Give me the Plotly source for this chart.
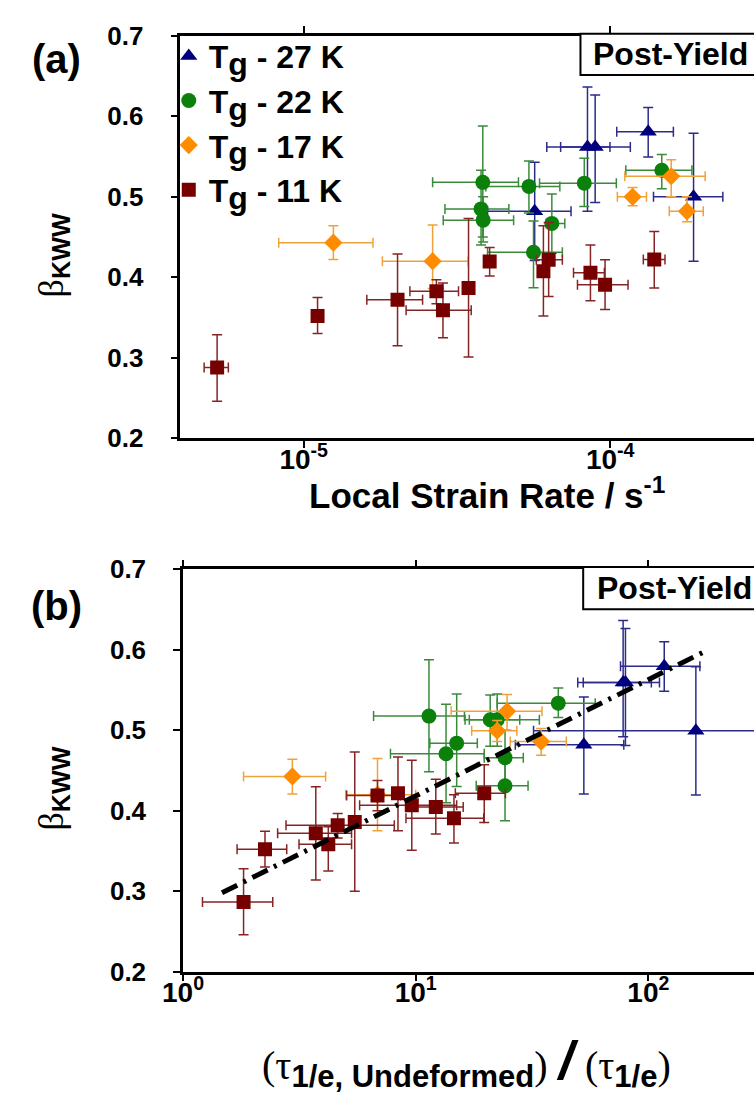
import plotly.graph_objects as go

W, H = 754, 1107
FONT = "Liberation Sans, Arial, sans-serif"
SERIF = "Liberation Serif, Times New Roman, serif"

# ---------------- Panel (a): beta_KWW vs local strain rate ----------------
a27_x   = [5.67e-5, 8.43e-5, 8.93e-5, 1.33e-4, 1.87e-4]
a27_y   = [0.482, 0.562, 0.562, 0.581, 0.500]
a27_xlo = [3.98e-5, 6.21e-5, 6.89e-5, 1.05e-4, 1.384e-4]
a27_xhi = [7.45e-5, 1.163e-4, 9.98e-5, 1.607e-4, 2.33e-4]
a27_ylo = [0.421, 0.482, 0.493, 0.5495, 0.420]
a27_yhi = [0.543, 0.6365, 0.6265, 0.611, 0.579]

a22_x   = [3.84e-5, 3.79e-5, 3.85e-5, 5.43e-5, 8.23e-5, 6.45e-5, 5.62e-5, 1.473e-4]
a22_y   = [0.518, 0.485, 0.471, 0.513, 0.517, 0.467, 0.431, 0.533]
a22_xlo = [2.634e-5, 2.89e-5, 2.853e-5, 3.93e-5, 5.88e-5, 6.18e-5, 3.98e-5, 1.124e-4]
a22_xhi = [5.02e-5, 4.67e-5, 4.84e-5, 6.85e-5, 1.047e-4, 7.11e-5, 6.98e-5, 1.847e-4]
a22_ylo = [0.450, 0.440, 0.444, 0.480, 0.488, 0.430, 0.387, 0.510]
a22_yhi = [0.588, 0.533, 0.500, 0.5446, 0.548, 0.5035, 0.470, 0.5527]

a17_x   = [1.25e-5, 2.634e-5, 1.183e-4, 1.581e-4, 1.78e-4]
a17_y   = [0.443, 0.420, 0.500, 0.5256, 0.482]
a17_xlo = [8.29e-6, 1.806e-5, 1.055e-4, 1.116e-4, 1.558e-4]
a17_xhi = [1.683e-5, 3.44e-5, 1.313e-4, 2.04e-4, 2.011e-4]
a17_ylo = [0.422, 0.386, 0.489, 0.500, 0.469]
a17_yhi = [0.464, 0.465, 0.5116, 0.546, 0.500]

a11_x   = [5.22e-6, 1.11e-5, 2.024e-5, 2.71e-5, 2.847e-5, 3.45e-5,
           4.043e-5, 6.054e-5, 6.297e-5, 8.62e-5, 9.62e-5, 1.392e-4]
a11_y   = [0.288, 0.352, 0.372, 0.3826, 0.359, 0.3866,
           0.4197, 0.4076, 0.4217, 0.4056, 0.3907, 0.422]
a11_xlo = [4.735e-6, 1.11e-5, 1.607e-5, 2.221e-5, 2.158e-5, 3.45e-5,
           3.906e-5, 6.054e-5, 5.74e-5, 7.59e-5, 7.82e-5, 1.282e-4]
a11_xhi = [5.68e-6, 1.11e-5, 2.443e-5, 3.20e-5, 3.52e-5, 3.45e-5,
           4.203e-5, 6.054e-5, 6.98e-5, 9.57e-5, 1.143e-4, 1.509e-4]
a11_ylo = [0.246, 0.330, 0.315, 0.367, 0.325, 0.301,
           0.4016, 0.352, 0.376, 0.371, 0.360, 0.3866]
a11_yhi = [0.3285, 0.375, 0.429, 0.397, 0.393, 0.473,
           0.437, 0.464, 0.468, 0.440, 0.4217, 0.457]

# ---------------- Panel (b): beta_KWW vs tau ratio ----------------
b27_x   = [52.8, 77.9, 79.7, 117.0, 160.0]
b27_y   = [0.482, 0.5595, 0.5595, 0.5797, 0.4994]
b27_xlo = [26.8, 49.7, 52.5, 75.9, 32.1]
b27_xhi = [78.4, 111.6, 103.0, 166.5, 400.0]
b27_ylo = [0.4208, 0.492, 0.481, 0.5486, 0.4196]
b27_yhi = [0.5413, 0.6365, 0.6265, 0.610, 0.579]

b22_x   = [11.4, 15.0, 13.5, 20.9, 22.4, 41.0, 24.2, 24.2]
b22_y   = [0.5176, 0.484, 0.4709, 0.513, 0.513, 0.5337, 0.466, 0.431]
b22_xlo = [6.59, 11.5, 7.79, 16.3, 17.0, 22.4, 19.7, 18.2]
b22_xhi = [16.2, 18.4, 19.7, 28.0, 34.0, 59.1, 29.0, 30.4]
b22_ylo = [0.4486, 0.430, 0.410, 0.480, 0.480, 0.516, 0.430, 0.3874]
b22_yhi = [0.5877, 0.545, 0.5325, 0.5438, 0.545, 0.5526, 0.500, 0.470]

b17_x   = [2.95, 6.85, 22.4, 24.7, 34.6]
b17_y   = [0.4426, 0.420, 0.4994, 0.5236, 0.486]
b17_xlo = [1.82, 5.0, 17.4, 14.2, 25.5]
b17_xhi = [4.10, 10.0, 27.2, 34.9, 44.4]
b17_ylo = [0.4208, 0.375, 0.486, 0.500, 0.469]
b17_yhi = [0.464, 0.465, 0.512, 0.5446, 0.5023]

b11_x   = [1.82, 2.25, 3.72, 4.21, 4.62, 5.47, 6.85, 8.39, 9.62, 12.2, 14.6, 19.7]
b11_y   = [0.2866, 0.352, 0.372, 0.3584, 0.382, 0.386, 0.419, 0.4217, 0.4067, 0.4047, 0.3906, 0.4217]
b11_xlo = [1.212, 1.707, 2.55, 3.15, 2.77, 5.47, 5.05, 8.39, 5.74, 9.5, 9.08, 14.8]
b11_xhi = [2.43, 2.79, 5.30, 5.30, 8.09, 5.47, 8.59, 8.39, 15.0, 16.0, 19.6, 24.3]
b11_ylo = [0.246, 0.330, 0.314, 0.325, 0.366, 0.300, 0.400, 0.375, 0.351, 0.371, 0.360, 0.3854]
b11_yhi = [0.328, 0.3745, 0.4297, 0.380, 0.3966, 0.473, 0.4377, 0.4668, 0.4628, 0.439, 0.420, 0.457]

fit_x = [1.47, 174.7]
fit_y = [0.298, 0.598]

series_labels = ["27 K", "22 K", "17 K", "11 K"]
series_names = ["T<sub><span style='font-size:32px'>g</span></sub> - " + s for s in series_labels]
symbols = ["triangle-up", "circle", "diamond", "square"]
marker_colors = ["#00007f", "#0b800b", "#ff8c00", "#760000"]
error_colors = ["#2b2b8c", "#3a8a3a", "#f0a23a", "#852424"]
marker_sizes = [15, 15, 14, 14]


def px(xp):
    return xp / W


def py(yp):
    return 1 - yp / H


fig = go.Figure()

panel_a = [(a27_x, a27_y, a27_xlo, a27_xhi, a27_ylo, a27_yhi),
           (a22_x, a22_y, a22_xlo, a22_xhi, a22_ylo, a22_yhi),
           (a17_x, a17_y, a17_xlo, a17_xhi, a17_ylo, a17_yhi),
           (a11_x, a11_y, a11_xlo, a11_xhi, a11_ylo, a11_yhi)]
panel_b = [(b27_x, b27_y, b27_xlo, b27_xhi, b27_ylo, b27_yhi),
           (b22_x, b22_y, b22_xlo, b22_xhi, b22_ylo, b22_yhi),
           (b17_x, b17_y, b17_xlo, b17_xhi, b17_ylo, b17_yhi),
           (b11_x, b11_y, b11_xlo, b11_xhi, b11_ylo, b11_yhi)]


def add_series(data, i, xa, ya, show):
    x, y, xlo, xhi, ylo, yhi = data
    fig.add_trace(go.Scatter(
        x=x, y=y, mode="markers", name=series_names[i],
        legendgroup=str(i), showlegend=show,
        xaxis=xa, yaxis=ya,
        marker=dict(symbol=symbols[i], size=marker_sizes[i],
                    color=marker_colors[i], line=dict(width=0)),
        error_x=dict(type="data", symmetric=False,
                     array=[h - v for h, v in zip(xhi, x)],
                     arrayminus=[v - l for v, l in zip(x, xlo)],
                     color=error_colors[i], thickness=1.5, width=5),
        error_y=dict(type="data", symmetric=False,
                     array=[h - v for h, v in zip(yhi, y)],
                     arrayminus=[v - l for v, l in zip(y, ylo)],
                     color=error_colors[i], thickness=1.5, width=5),
    ))


for i, d in enumerate(panel_a):
    add_series(d, i, "x", "y", True)
for i, d in enumerate(panel_b):
    add_series(d, i, "x2", "y2", False)

fig.add_trace(go.Scatter(
    x=fit_x, y=fit_y, mode="lines", showlegend=False, xaxis="x2", yaxis="y2",
    line=dict(color="black", width=5, dash="17px,7px,3px,7px"),
))

axis_common = dict(showline=True, linecolor="black", linewidth=2.5,
                   ticks="outside", ticklen=7, tickwidth=2, tickcolor="black",
                   showgrid=False, zeroline=False)
xfont = dict(family=FONT, size=28, color="black", weight="bold")
yfont = dict(family=FONT, size=26, color="black", weight="bold")

fig.update_layout(
    width=W, height=H, margin=dict(l=0, r=0, t=0, b=0),
    paper_bgcolor="white", plot_bgcolor="white",
    xaxis=dict(type="log", range=[-5.402, -3.531], domain=[px(164), 1],
               anchor="y", mirror="ticks",
               tickvals=[1e-5, 1e-4, 1e-3],
               ticktext=["10<sup>-5</sup>", "10<sup>-4</sup>", "10<sup>-3</sup>"],
               ticklabelstandoff=-13, tickfont=xfont, **axis_common),
    yaxis=dict(range=[0.2, 0.7], domain=[py(435), py(21.5)], anchor="x",
               tickvals=[0.2, 0.3, 0.4, 0.5, 0.6, 0.7],
               ticktext=["0.2", "0.3", "0.4", "0.5", "0.6", "0.7"],
               ticklabelstandoff=22, tickfont=yfont, **axis_common),
    xaxis2=dict(type="log", range=[0, 2.454], domain=[px(166.7), 1],
                anchor="y2", mirror="ticks",
                tickvals=[1, 10, 100, 1000],
                ticktext=["10<sup>0</sup>", "10<sup>1</sup>", "10<sup>2</sup>", "10<sup>3</sup>"],
                ticklabelstandoff=-13, tickfont=xfont, **axis_common),
    yaxis2=dict(range=[0.2, 0.7], domain=[py(983.3), py(569.8)], anchor="x2",
                tickvals=[0.2, 0.3, 0.4, 0.5, 0.6, 0.7],
                ticktext=["0.2", "0.3", "0.4", "0.5", "0.6", "0.7"],
                ticklabelstandoff=22, tickfont=yfont, **axis_common),
    legend=dict(x=px(152), y=py(14), xanchor="left", yanchor="top",
                bgcolor="rgba(0,0,0,0)", tracegroupgap=0,
                font=dict(family=FONT, size=32, color="black", weight="bold")),
    showlegend=True,
)

# Post-Yield boxes
for (x0, y0, y1, tx) in [(575.5, 19.3, 61.7, 586), (578.3, 567.3, 610.7, 590)]:
    fig.add_shape(type="rect", xref="paper", yref="paper",
                  x0=px(x0), x1=px(x0 + 260), y0=py(y1), y1=py(y0),
                  line=dict(color="black", width=2), fillcolor="white", layer="above")
    fig.add_annotation(xref="paper", yref="paper", x=px(tx), y=py((y0 + y1) / 2),
                       xanchor="left", yanchor="middle", showarrow=False,
                       text="Post-Yield",
                       font=dict(family=FONT, size=32, color="black", weight="bold"))

# panel letters
for lab, yp in [("(a)", 45), ("(b)", 607)]:
    fig.add_annotation(xref="paper", yref="paper", x=px(37), y=py(yp),
                       xanchor="center", yanchor="middle", showarrow=False, text=lab,
                       font=dict(family=FONT, size=40, color="black", weight="bold"))

# y titles
for yp in [247, 795]:
    fig.add_annotation(xref="paper", yref="paper", x=px(33), y=py(yp),
                       xanchor="center", yanchor="middle", showarrow=False,
                       textangle=-90,
                       text="<span style='font-family:" + SERIF + "'>β</span><sub><b>KWW</b></sub>",
                       font=dict(family=FONT, size=36, color="black"))

# x titles
fig.add_annotation(xref="paper", yref="paper", x=px(479), y=py(491),
                   xanchor="center", yanchor="middle", showarrow=False,
                   text="Local Strain Rate / s<sup>-1</sup>",
                   font=dict(family=FONT, size=35, color="black", weight="bold"))
sub = "<sub><span style='font-size:31px'><b>%s</b></span></sub>"
fig.add_annotation(xref="paper", yref="paper", x=px(458), y=py(1076),
                   xanchor="center", yanchor="middle", showarrow=False,
                   text=("<span style='font-family:" + SERIF + "'>(τ</span>"
                         + sub % "1/e, Undeformed"
                         + "<span style='font-family:" + SERIF + "'>)</span> "
                         "<span style='font-size:54px'><b><i>/</i></b></span> "
                         "<span style='font-family:" + SERIF + "'>(τ</span>"
                         + sub % "1/e"
                         + "<span style='font-family:" + SERIF + "'>)</span>"),
                   font=dict(family=FONT, size=40, color="black"))

fig.write_html("out.html", config={"displayModeBar": False},
               post_script="document.body.style.margin='0px';")
